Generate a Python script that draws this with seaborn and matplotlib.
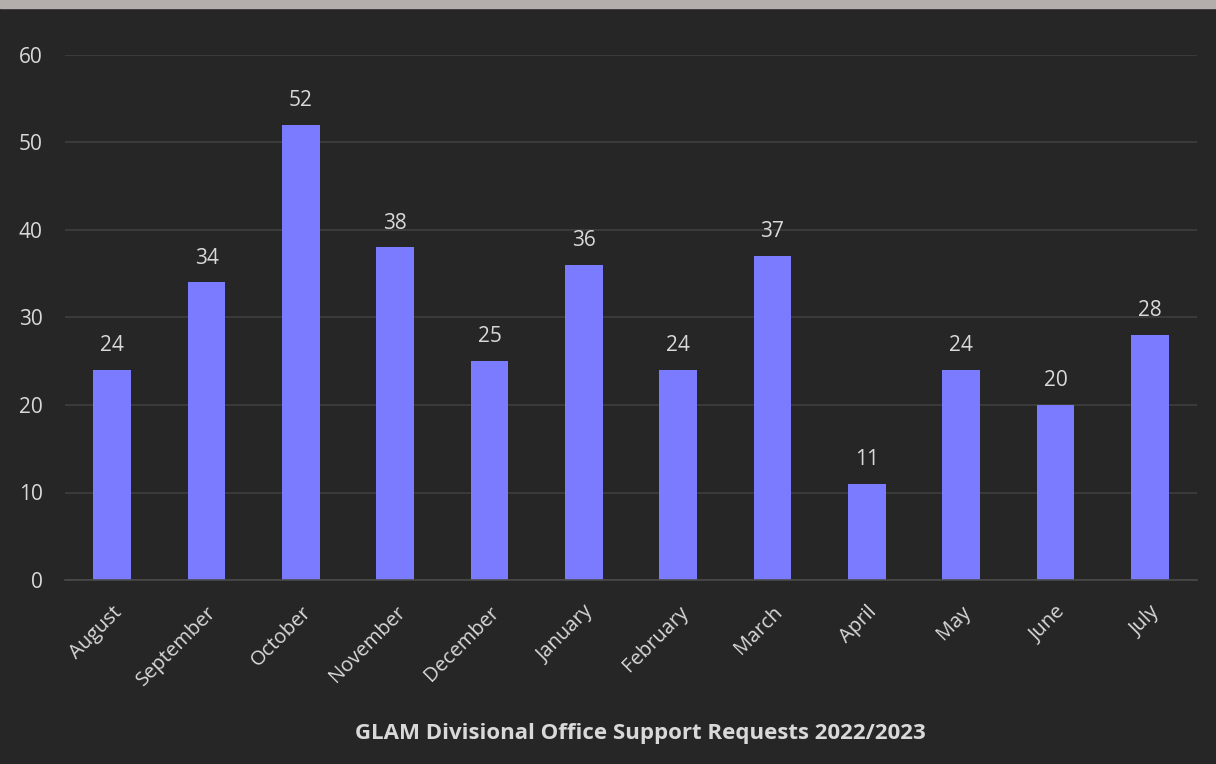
import matplotlib
matplotlib.use("Agg")
import matplotlib.pyplot as plt
import seaborn as sns
import pandas as pd

months = ["August", "September", "October", "November", "December", "January",
          "February", "March", "April", "May", "June", "July"]
requests = [24, 34, 52, 38, 25, 36, 24, 37, 11, 24, 20, 28]
y_ticks = [0, 10, 20, 30, 40, 50, 60]
title = "GLAM Divisional Office Support Requests 2022/2023"

bg = "#262626"
bar_color = "#7b7bff"
text_color = "#d9d9d9"
grid_color = "#3f3f3f"

sns.set_theme(style="dark")
plt.rcParams["font.family"] = ["Open Sans", "DejaVu Sans"]

df = pd.DataFrame({"month": months, "requests": requests})

fig = plt.figure(figsize=(12.16, 7.64), dpi=100, facecolor=bg)
# light strip along the top edge
fig.patches.append(plt.Rectangle((0, 1 - 8 / 764), 1, 8 / 764, transform=fig.transFigure,
                                 color="#b3adab", zorder=0))
ax = fig.add_axes([65 / 1216, (764 - 580) / 764, 1132 / 1216, 525 / 764])
ax.set_facecolor(bg)

sns.barplot(data=df, x="month", y="requests", color=bar_color, saturation=1,
            width=0.4, linewidth=0, edgecolor="none", ax=ax, zorder=3)

ax.set_ylim(0, 60)
ax.set_xlim(-0.5, len(months) - 0.5)
ax.set_yticks(y_ticks)
ax.set_yticklabels([str(t) for t in y_ticks], color=text_color, fontsize=15)
ax.set_xticks(range(len(months)))
ax.set_xticklabels(months, rotation=45, ha="right", rotation_mode="anchor",
                   color=text_color, fontsize=14.5)
ax.tick_params(axis="x", length=0, pad=16)
ax.tick_params(axis="y", length=0, pad=16)
ax.set_xlabel("")
ax.set_ylabel("")

ax.yaxis.grid(True, color=grid_color, linewidth=1.2, zorder=0)
ax.xaxis.grid(False)
for side in ["top", "right", "left"]:
    ax.spines[side].set_visible(False)
ax.spines["bottom"].set_color("#4a4a4a")
ax.spines["bottom"].set_linewidth(1.2)
ax.spines["bottom"].set_zorder(4)

for i, v in enumerate(requests):
    ax.annotate(str(v), (i, v), xytext=(0, 10), textcoords="offset points",
                ha="center", va="bottom", color=text_color, fontsize=15)

fig.text(640 / 1216, 1 - 733 / 764, title, ha="center", va="center",
         color=text_color, fontsize=16, fontweight="bold")

fig.savefig("out.png", dpi=100, facecolor=bg)
